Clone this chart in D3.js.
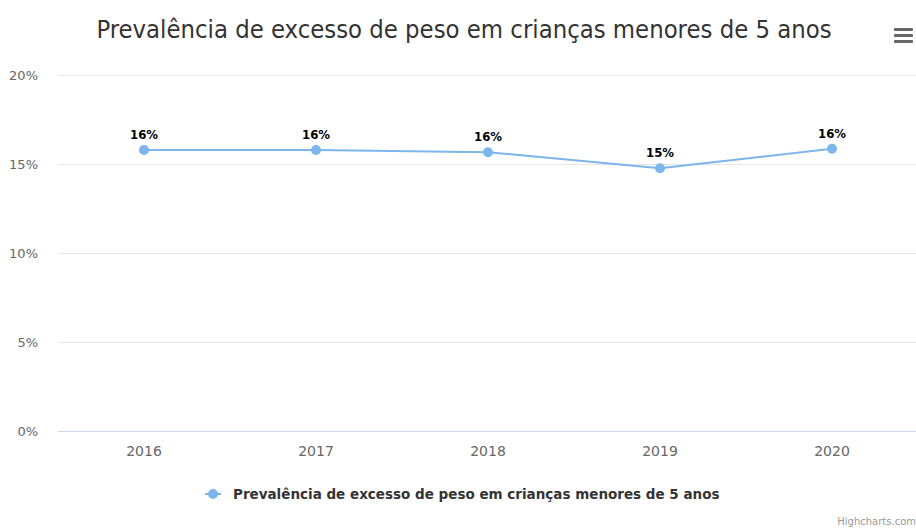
<!DOCTYPE html>
<html>
<head>
<meta charset="utf-8">
<script src="https://cdn.jsdelivr.net/npm/d3@7"></script>
<style>
  body { margin: 0; background: #fff; }
  svg { display: block; }
</style>
</head>
<body>
<div id="chart-area"></div>
<script>
var years = ["2016", "2017", "2018", "2019", "2020"];
var prevalencia = [15.79, 15.79, 15.66, 14.76, 15.86];
var yTicks = [0, 5, 10, 15, 20];
var titulo = "Prevalência de excesso de peso em crianças menores de 5 anos";
var serieNome = "Prevalência de excesso de peso em crianças menores de 5 anos";

var W = 916, H = 528;
var margin = { left: 58, right: 0, top: 75, bottom: 97 };
var width = W - margin.left - margin.right,
    height = H - margin.top - margin.bottom;
var color = "#7cb5ec";

var svg = d3.select("#chart-area")
    .append("svg")
        .attr("width", W)
        .attr("height", H)
        .style("font-family", "'Lucida Grande', 'DejaVu Sans', sans-serif");

// Title
svg.append("text")
    .attr("x", 464)
    .attr("y", 38)
    .attr("text-anchor", "middle")
    .attr("font-family", "'Liberation Sans Narrow', 'DejaVu Sans Condensed', sans-serif")
    .attr("font-size", "25.4px")
    .attr("fill", "#333")
    .text(titulo);

// menu icon
[0, 6, 12].forEach(function(dy){
    svg.append("rect")
        .attr("x", 894).attr("y", 28 + dy)
        .attr("width", 19).attr("height", 3)
        .attr("rx", 1)
        .attr("fill", "#666");
});

var g = svg.append("g")
    .attr("transform", "translate(" + margin.left + "," + margin.top + ")");

// Scales
var x = d3.scaleBand()
    .domain(years)
    .range([0, 860]);
var y = d3.scaleLinear()
    .domain([0, 20])
    .range([356, 0]);

// Grid
g.selectAll(".grid")
    .data(yTicks)
    .enter().append("line")
        .attr("class", "grid")
        .attr("x1", 0).attr("x2", width)
        .attr("y1", function(d){ return y(d) + 0.5; })
        .attr("y2", function(d){ return y(d) + 0.5; })
        .attr("stroke", function(d){ return d === 0 ? "#ccd6eb" : "#e6e6e6"; })
        .attr("stroke-width", 1);

// Y axis
var yAxisCall = d3.axisLeft(y)
    .tickValues(yTicks)
    .tickSize(0)
    .tickPadding(20)
    .tickFormat(function(d){ return d + "%"; });
var yAxis = g.append("g").call(yAxisCall);
yAxis.select(".domain").remove();
yAxis.selectAll("text")
    .attr("fill", "#666")
    .attr("font-size", "13px")
    .attr("font-family", "'DejaVu Sans', sans-serif");

// X axis
var xAxisCall = d3.axisBottom(x).tickSize(0).tickPadding(15);
var xAxis = g.append("g")
    .attr("transform", "translate(0," + 356 + ")")
    .call(xAxisCall);
xAxis.select(".domain").remove();
xAxis.selectAll("text")
    .attr("fill", "#666")
    .attr("font-size", "14px")
    .attr("font-family", "'DejaVu Sans', sans-serif");

var cx = function(d, i){ return x(years[i]) + x.bandwidth() / 2; };

// Line
var line = d3.line()
    .x(function(d, i){ return cx(d, i); })
    .y(function(d){ return y(d); });
g.append("path")
    .datum(prevalencia)
    .attr("d", line)
    .attr("fill", "none")
    .attr("stroke", color)
    .attr("stroke-width", 2);

g.selectAll(".pt")
    .data(prevalencia)
    .enter().append("circle")
        .attr("class", "pt")
        .attr("cx", cx)
        .attr("cy", function(d){ return y(d); })
        .attr("r", 5)
        .attr("fill", color);

// Data labels
g.selectAll(".lbl")
    .data(prevalencia)
    .enter().append("text")
        .attr("class", "lbl")
        .attr("x", cx)
        .attr("y", function(d){ return y(d) - 11; })
        .attr("text-anchor", "middle")
        .attr("font-size", "13px")
        .attr("font-weight", "bold")
        .attr("fill", "#000")
        .attr("stroke", "#fff")
        .attr("stroke-width", 2)
        .attr("paint-order", "stroke")
        .attr("font-family", "'DejaVu Sans Condensed', 'DejaVu Sans', sans-serif")
        .text(function(d){ return Math.round(d) + "%"; });

// Legend
var legend = svg.append("g")
    .attr("transform", "translate(205,494)");
legend.append("line")
    .attr("x1", 0).attr("x2", 16)
    .attr("y1", 0).attr("y2", 0)
    .attr("stroke", color)
    .attr("stroke-width", 2);
legend.append("circle")
    .attr("cx", 8).attr("cy", 0).attr("r", 5)
    .attr("fill", color);
legend.append("text")
    .attr("x", 28)
    .attr("y", 5)
    .attr("font-size", "13.5px")
    .attr("font-weight", "bold")
    .attr("fill", "#333")
    .attr("font-family", "'DejaVu Sans', sans-serif")
    .text(serieNome);

// credits
svg.append("text")
    .attr("x", 916)
    .attr("y", 525)
    .attr("text-anchor", "end")
    .attr("font-size", "10px")
    .attr("fill", "#999")
    .text("Highcharts.com");
</script>
</body>
</html>
